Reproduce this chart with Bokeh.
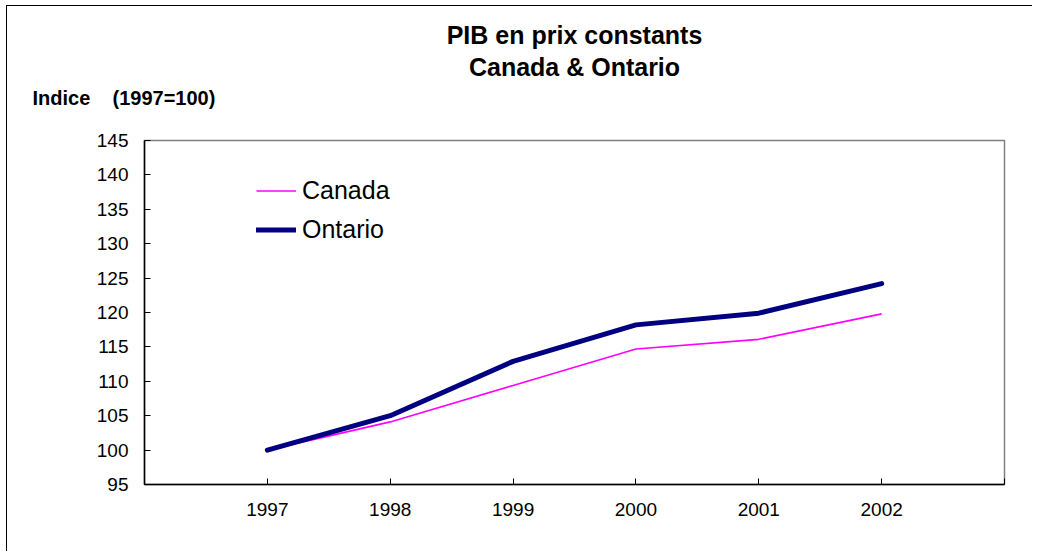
from bokeh.plotting import figure
from bokeh.models import Range1d, Title, Legend, LegendItem, FixedTicker
from bokeh.embed import file_html
from bokeh.resources import INLINE

years = [1997, 1998, 1999, 2000, 2001, 2002]
canada = [100.0, 104.1, 109.4, 114.7, 116.1, 119.8]
ontario = [100.0, 105.0, 112.9, 118.2, 119.9, 124.2]
y_ticks = [95, 100, 105, 110, 115, 120, 125, 130, 135, 140, 145]
x_ticks = [1996, 1997, 1998, 1999, 2000, 2001, 2002, 2003]
title_lines = ["PIB en prix constants", "Canada & Ontario"]
ylab = "Indice\u00a0\u00a0\u00a0\u00a0(1997=100)"

FONT = "Liberation Sans"
W, H = 1026, 546

p = figure(width=W, height=H, output_backend="svg", toolbar_location=None,
           title=None,
           x_range=Range1d(1996, 2003), y_range=Range1d(95, 145),
           min_border_left=137, min_border_right=29, min_border_top=134,
           min_border_bottom=68)
p.styles = {"border-left": "1px solid black", "border-top": "1px solid black",
            "margin-left": "6px", "margin-top": "5px"}
p.background_fill_color = "white"
p.border_fill_color = "white"
p.outline_line_color = "#808080"
p.outline_line_width = 1.5
p.xgrid.visible = False
p.ygrid.visible = False

# stacked titles: first added is closest to the frame
# (trailing line keeps the index label clear of the frame)
p.add_layout(Title(text=ylab + "\n", align="left", offset=-112, standoff=6,
                   text_line_height=1.3,
                   text_font=FONT, text_font_size="20px",
                   text_font_style="bold", text_color="black"), "above")
p.add_layout(Title(text=title_lines[1], align="center", standoff=2,
                   text_font=FONT, text_font_size="25px",
                   text_font_style="bold", text_color="black"), "above")
p.add_layout(Title(text=title_lines[0], align="center", standoff=2,
                   text_font=FONT, text_font_size="25px",
                   text_font_style="bold", text_color="black"), "above")

r_can = p.line(years, canada, line_color="#FF00FF", line_width=1.6)
r_ont = p.line(years, ontario, line_color="#000080", line_width=5,
               line_cap="round", line_join="round")

for ax in (p.xaxis[0], p.yaxis[0]):
    ax.axis_line_color = "black"
    ax.axis_line_width = 1.5
    ax.major_tick_line_color = "black"
    ax.major_tick_in = 6
    ax.major_tick_out = 0
    ax.minor_tick_line_color = None
    ax.major_label_text_font = FONT
    ax.major_label_text_font_size = "19px"
    ax.major_label_text_color = "black"

p.yaxis[0].ticker = FixedTicker(ticks=y_ticks)
p.yaxis[0].major_label_standoff = 16
p.xaxis[0].ticker = FixedTicker(ticks=x_ticks)
p.xaxis[0].major_label_overrides = {1996: "", 2003: ""}
p.xaxis[0].major_label_standoff = 18

legend = Legend(items=[LegendItem(label="Canada", renderers=[r_can]),
                       LegendItem(label="Ontario", renderers=[r_ont])],
                location=(112, 238), orientation="vertical",
                padding=0, margin=0, spacing=6,
                glyph_width=40, glyph_height=33, label_height=33,
                label_standoff=6, label_text_font=FONT,
                label_text_font_size="25px", label_text_color="black",
                border_line_color=None, background_fill_alpha=0)
p.add_layout(legend)

open("out.html", "w").write(file_html(p, INLINE))
